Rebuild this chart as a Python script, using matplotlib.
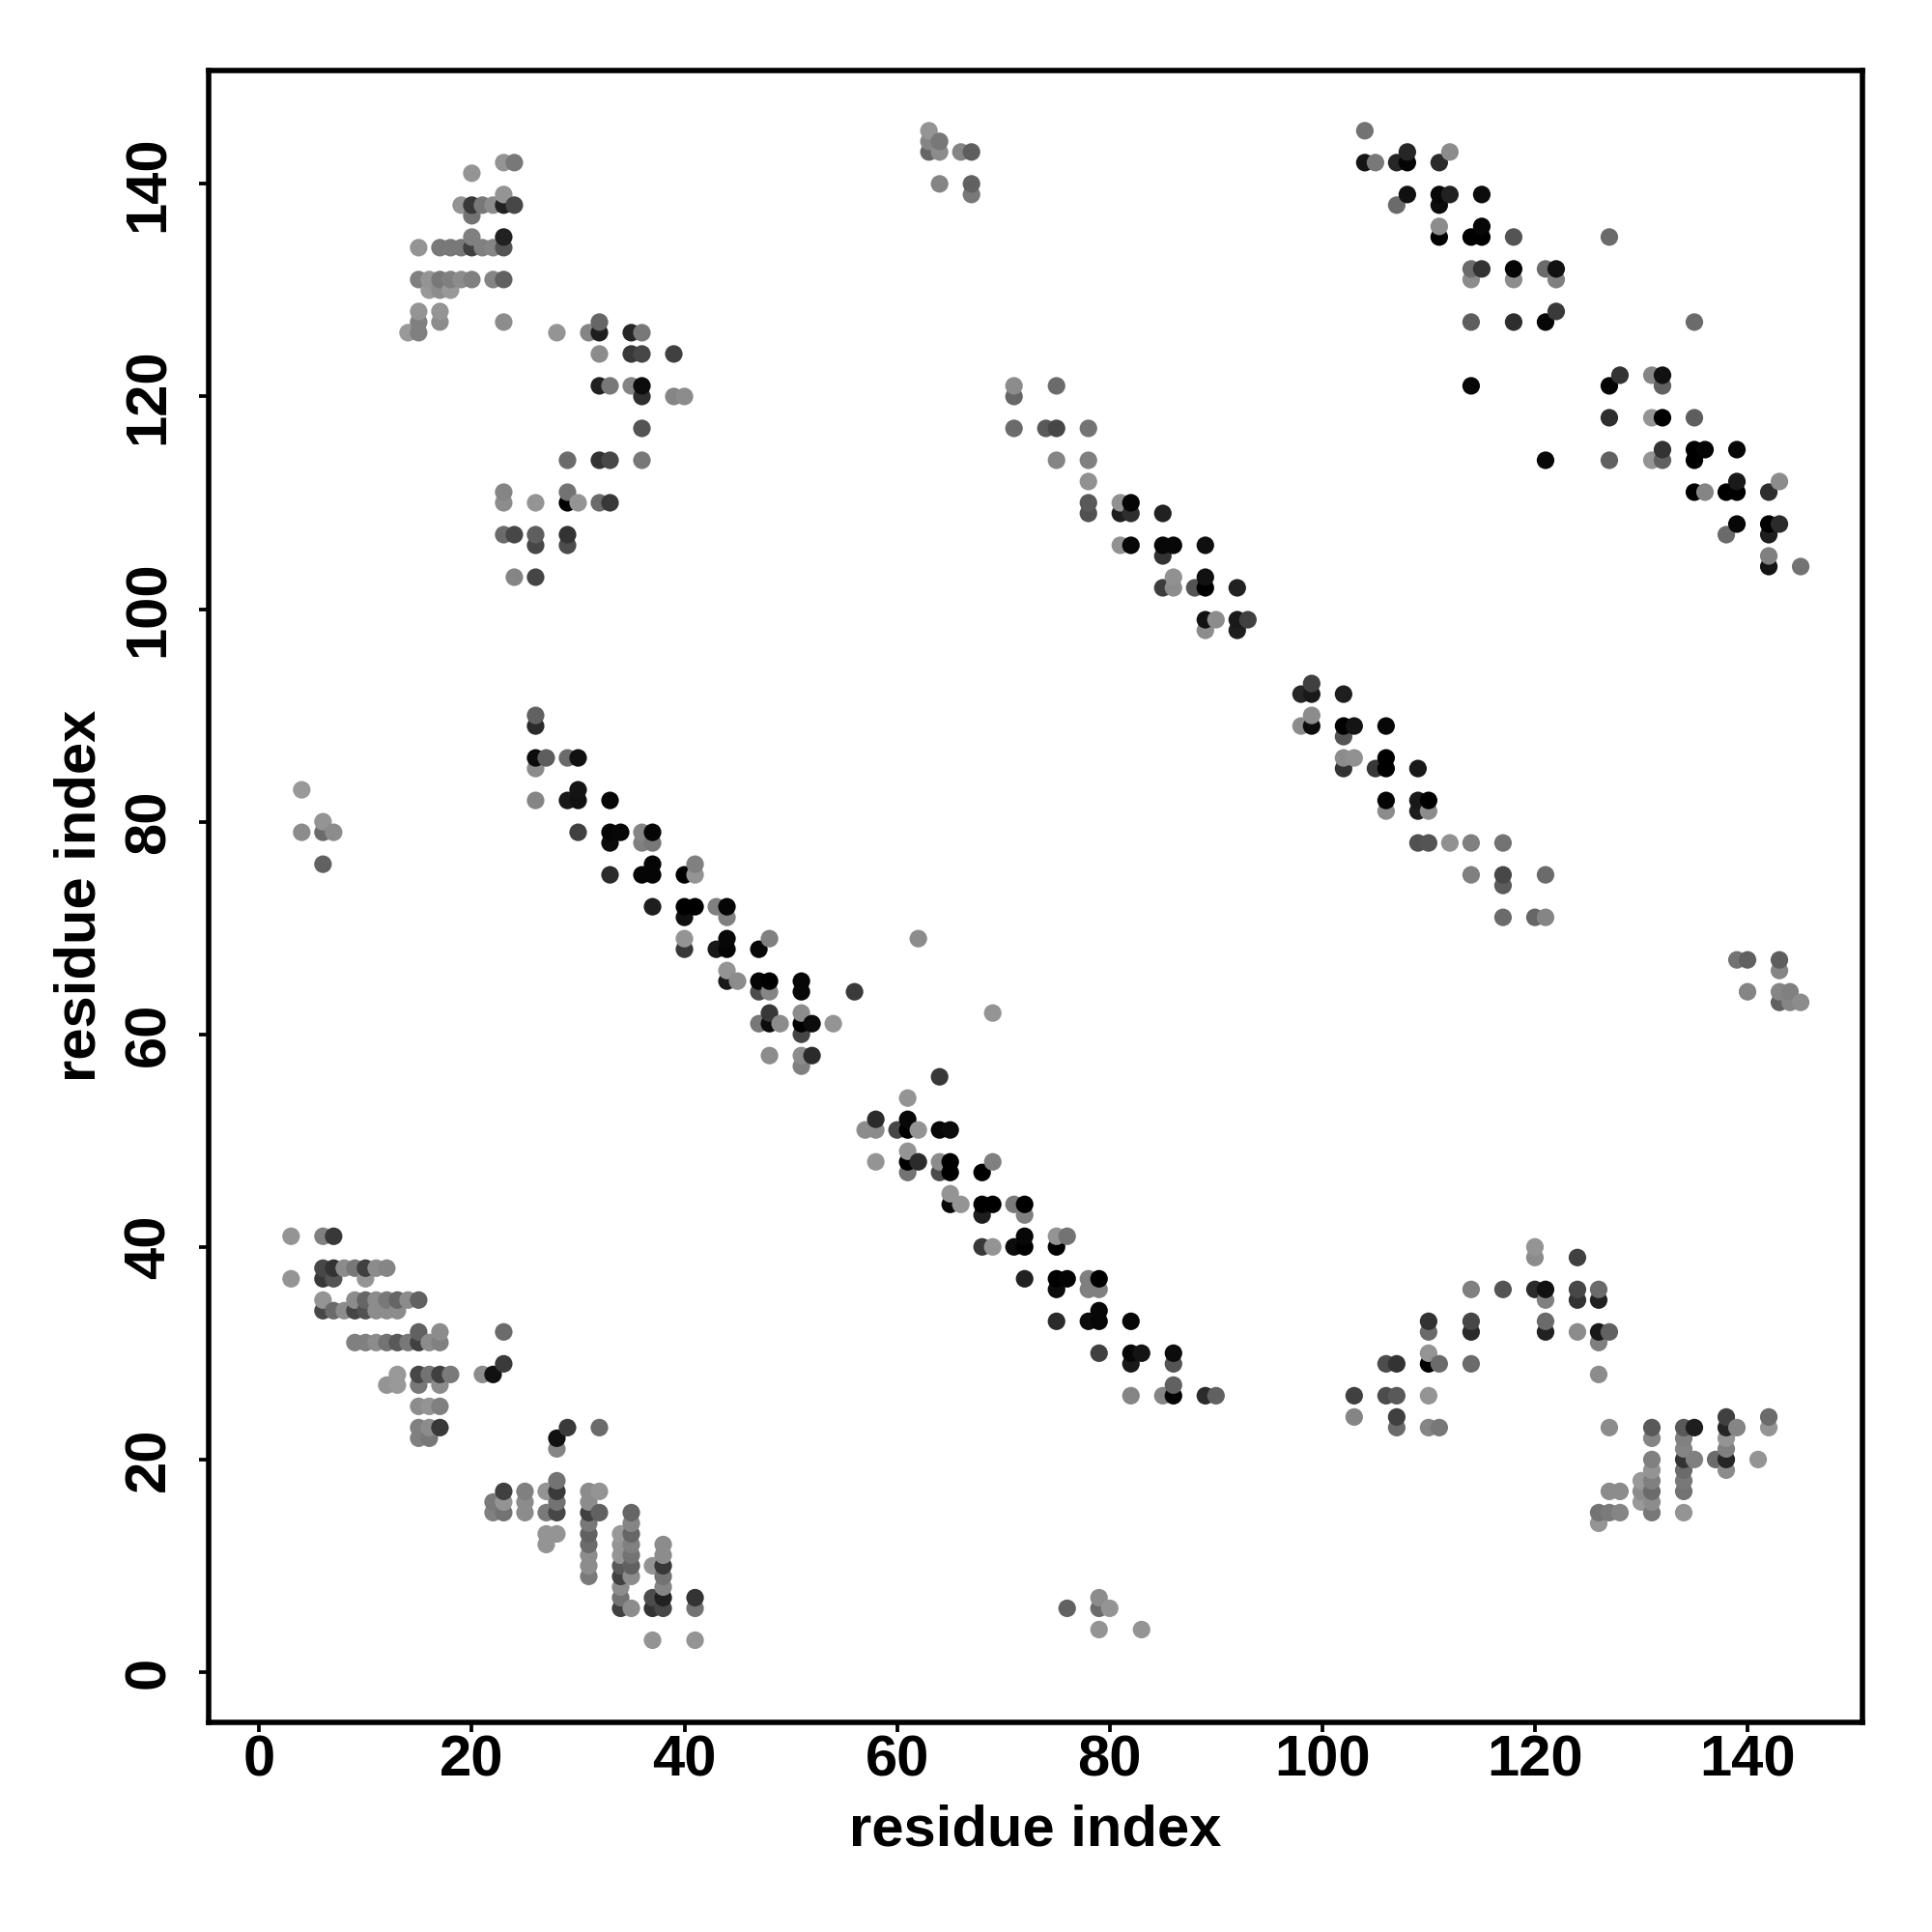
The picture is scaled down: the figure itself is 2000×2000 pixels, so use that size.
#
# Mapa de contactos por residuo
#
import numpy as np
import matplotlib
matplotlib.use("Agg")
import matplotlib.pyplot as plt

plt.rcParams["font.family"] = ["Liberation Sans", "DejaVu Sans"]
plt.rcParams["font.weight"] = "bold"

tick_values = [0, 20, 40, 60, 80, 100, 120, 140]

#
# Puntos por filas: residuo en y, residuos en x y nivel de gris
#
y_a = [3, 4, 6, 7, 8, 9, 10, 11, 12, 13, 14, 15, 16, 17, 18, 19, 20, 21, 22, 23, 24]
x_a = [[37, 41], [79, 83], [34, 35, 37, 38, 41, 76, 79, 80], [34, 37, 38, 41, 79], [34, 38],
       [31, 34, 35, 38], [31, 34, 35, 37, 38], [31, 34, 35, 38], [27, 31, 34, 35, 38],
       [27, 28, 31, 34, 35], [31, 35, 126],
       [22, 23, 25, 27, 28, 31, 32, 35, 126, 127, 128, 131, 134],
       [22, 23, 25, 28, 31, 130, 131],
       [23, 25, 27, 28, 31, 32, 127, 128, 130, 131, 134],
       [28, 130, 131, 134], [131, 134, 138], [131, 134, 135, 137, 138, 141], [28, 134, 138],
       [15, 16, 28, 131, 134, 138],
       [15, 16, 17, 29, 32, 107, 110, 111, 127, 131, 134, 135, 138, 139, 142],
       [103, 107, 138, 142]]
g_a = [[.58, .58], [.58, .58], [.25, .55, .2, .28, .45, .38, .42, .58], [.45, .3, .13, .2, .55], [.55, .52],
       [.48, .25, .55, .45], [.55, .35, .38, .58, .22], [.55, .58, .45, .55], [.58, .42, .58, .5, .55],
       [.58, .58, .38, .6, .4], [.47, .52, .58],
       [.5, .45, .55, .48, .28, .25, .38, .4, .45, .48, .52, .47, .58],
       [.48, .58, .55, .45, .55, .6, .55],
       [.25, .5, .58, .23, .55, .58, .55, .55, .55, .42, .45],
       [.45, .6, .5, .47], [.58, .42, .55], [.5, .2, .5, .42, .15, .58], [.52, .52, .5],
       [.5, .47, .07, .52, .5, .58],
       [.5, .55, .22, .23, .42, .42, .52, .47, .55, .35, .35, .12, .15, .52, .58],
       [.52, .25, .25, .42]]

y_b = [25, 26, 27, 28, 29, 30, 31, 32, 33, 34, 35, 36, 37, 38, 39, 40, 41, 43, 44, 45, 47, 48, 49]
x_b = [[15, 16, 17], [82, 85, 86, 89, 90, 103, 106, 107, 110], [12, 13, 15, 17, 86],
       [13, 15, 16, 17, 18, 21, 22, 126], [23, 82, 86, 106, 107, 110, 111, 114],
       [79, 82, 83, 86, 110], [9, 10, 11, 12, 13, 14, 15, 16, 17, 126],
       [15, 17, 23, 110, 114, 121, 124, 126, 127], [75, 78, 79, 82, 110, 114, 121],
       [6, 7, 8, 9, 10, 11, 12, 13, 79], [6, 9, 10, 11, 12, 13, 14, 15, 121, 124, 126],
       [75, 78, 79, 114, 117, 120, 121, 124, 126], [3, 6, 7, 10, 72, 75, 76, 78, 79],
       [6, 7, 8, 9, 10, 11, 12], [120, 124], [68, 69, 71, 72, 75, 120], [3, 6, 7, 72, 75, 76],
       [68, 72], [65, 66, 68, 69, 71, 72], [65], [61, 64, 65, 68], [58, 61, 62, 64, 65, 69], [61]]
g_b = [[.55, .58, .5], [.52, .52, .02, .17, .38, .25, .3, .35, .58], [.58, .6, .47, .55, .38],
       [.6, .28, .45, .25, .48, .55, .07, .55], [.23, .1, .33, .3, .2, .0, .42, .42],
       [.25, .03, .08, .05, .58], [.5, .5, .55, .45, .35, .47, .25, .55, .5, .5],
       [.38, .55, .42, .42, .17, .13, .55, .1, .38], [.17, .05, .03, .03, .2, .28, .42],
       [.28, .42, .55, .27, .32, .55, .55, .55, .03], [.58, .55, .4, .55, .47, .4, .55, .38, .5, .2, .13],
       [.05, .5, .5, .5, .33, .17, .07, .28, .42], [.58, .22, .33, .58, .13, .0, .02, .5, .0],
       [.28, .2, .55, .47, .25, .55, .52], [.55, .25], [.22, .58, .05, .0, .0, .58], [.58, .5, .22, .03, .58, .45],
       [.12, .5], [.03, .58, .0, .0, .48, .0], [.58], [.45, .3, .0, .0], [.58, .0, .17, .55, .0, .5], [.58]]

y_c = [51, 52, 54, 56, 57, 58, 60, 61, 62, 63, 64, 65, 66, 67, 68, 69, 71, 72, 74]
x_c = [[57, 58, 60, 61, 62, 64, 65], [58, 61], [61], [64], [51], [48, 51, 52], [51],
       [47, 48, 49, 51, 52, 54], [48, 51, 69], [143, 144, 145], [47, 48, 51, 56, 140, 143, 144],
       [44, 45, 47, 48, 51], [44, 143], [139, 140, 143], [40, 43, 44, 47], [40, 44, 48, 62],
       [40, 44, 117, 120, 121], [37, 40, 41, 43, 44], [117]]
g_c = [[.55, .55, .28, .0, .58, .03, .05], [.17, .03], [.58], [.22], [.5], [.55, .55, .17], [.27],
       [.47, .05, .55, .0, .05, .58], [.22, .55, .58], [.38, .52, .55], [.3, .52, .03, .23, .52, .52, .5],
       [.1, .55, .02, .0, .03], [.58, .52], [.45, .38, .37], [.22, .1, .02, .03], [.58, .03, .5, .55],
       [.07, .5, .42, .4, .52], [.12, .0, .0, .5, .02], [.36]]

y_d = [75, 76, 78, 79, 80, 81, 82, 83, 85, 86, 88, 89, 90, 92, 93, 98, 99]
x_d = [[33, 36, 37, 40, 41, 114, 117, 121], [6, 37, 41], [33, 36, 37, 109, 110, 112, 114, 117],
       [4, 6, 7, 30, 33, 34, 36, 37], [6], [106, 109, 110], [26, 29, 30, 33, 106, 109, 110], [4, 30],
       [26, 102, 105, 106, 109], [26, 27, 29, 30, 102, 103, 106], [102], [26, 98, 99, 102, 103, 106],
       [26, 99], [98, 99, 102], [99], [89, 92], [89, 90, 92, 93]]
g_d = [[.17, .02, .02, .0, .58, .5, .28, .42], [.38, .02, .5], [.05, .5, .47, .32, .33, .57, .5, .45],
       [.55, .42, .55, .25, .02, .03, .52, .02], [.58], [.55, .12, .55], [.52, .1, .07, .03, .02, .1, .0], [.6, .08],
       [.55, .2, .22, .0, .1], [.05, .37, .42, .07, .55, .57, .0], [.33], [.17, .55, .05, .0, .08, .03],
       [.38, .55], [.15, .1, .12], [.25], [.55, .12], [.07, .55, .1, .25]]

y_e = [102, 103, 104, 105, 106, 107, 108, 109, 110, 111, 112, 114, 115, 117, 118, 120, 121, 122, 124]
x_e = [[85, 86, 88, 89, 92], [24, 26, 86, 89], [142, 145], [85, 142], [26, 29, 81, 82, 85, 86, 89],
       [23, 24, 26, 29, 138, 142], [139, 142, 143], [78, 81, 82, 85],
       [23, 26, 29, 30, 32, 33, 78, 81, 82], [23, 29, 135, 136, 138, 139, 142], [78, 139, 143],
       [29, 32, 33, 36, 75, 78, 121, 127, 131, 132, 135], [132, 135, 136, 139], [36, 71, 74, 75, 78],
       [127, 131, 132, 135], [36, 39, 40, 71], [32, 33, 35, 36, 71, 75, 114, 127, 132],
       [128, 131, 132], [32, 35, 36, 39]]
g_e = [[.24, .55, .33, .0, .13], [.52, .27, .57, .07], [.08, .45], [.2, .5], [.28, .3, .57, .03, .03, .03, .06],
       [.42, .28, .37, .2, .42, .12], [.03, .0, .17], [.32, .12, .18, .13],
       [.55, .58, .0, .58, .42, .22, .35, .57, .02], [.52, .45, .0, .52, .0, .0, .18], [.57, .1, .55],
       [.42, .2, .28, .47, .52, .5, .03, .38, .58, .38, .0], [.2, .0, .02, .03], [.33, .42, .35, .28, .45],
       [.18, .58, .0, .37], [.18, .52, .55, .4], [.13, .47, .52, .05, .55, .42, .03, .02, .38],
       [.2, .52, .07], [.55, .22, .28, .25]]

y_f = [126, 127, 128, 130, 131, 132, 134, 135, 136, 137, 138, 139, 140, 141, 142, 143, 144, 145]
x_f = [[14, 15, 28, 31, 32, 35, 36], [15, 17, 23, 32, 114, 118, 121, 135], [15, 17, 122], [16, 17, 18],
       [15, 16, 17, 18, 19, 20, 22, 23, 114, 118, 122], [114, 115, 118, 121, 122],
       [15, 17, 18, 19, 20, 21, 22, 23], [20, 23, 111, 114, 115, 118, 127], [111, 115], [20],
       [19, 20, 21, 22, 23, 24, 107, 111], [23, 67, 108, 111, 112, 115], [64, 67], [20],
       [23, 24, 104, 105, 107, 108, 111], [63, 64, 66, 67, 108, 112], [63, 64], [63, 104]]
g_f = [[.6, .5, .58, .52, .12, .15, .47], [.5, .55, .55, .4, .37, .18, .03, .42], [.58, .58, .23], [.6, .55, .6],
       [.5, .58, .47, .5, .55, .5, .52, .38, .55, .55, .5], [.42, .2, .02, .42, .07],
       [.58, .47, .47, .47, .25, .5, .52, .33], [.5, .13, .0, .0, .0, .33, .42], [.55, .03], [.45],
       [.58, .22, .47, .55, .13, .28, .42, .05], [.58, .47, .07, .03, .13, .05], [.52, .38], [.58],
       [.58, .47, .08, .47, .15, .02, .17], [.4, .55, .52, .37, .15, .55], [.52, .47], [.58, .45]]

#
# Se organizan los datos para graficarlos.
#
xs, ys, gs = [], [], []
for rows, cols, shades in [(y_a, x_a, g_a), (y_b, x_b, g_b), (y_c, x_c, g_c),
                           (y_d, x_d, g_d), (y_e, x_e, g_e), (y_f, x_f, g_f)]:
    for row, col, shade in zip(rows, cols, shades):
        xs.extend(col)
        ys.extend([row] * len(col))
        gs.extend(shade)
xs, ys, gs = np.array(xs), np.array(ys), np.array(gs)
order = np.lexsort((ys, xs))

fig = plt.figure(figsize=(20, 20), dpi=100)
ax = fig.add_axes([215.5 / 2000, 217 / 2000, 1712.5 / 2000, 1710.4 / 2000])
ax.scatter(xs[order], ys[order], c=gs[order], cmap="gray", vmin=0, vmax=1, s=172, linewidths=0)

ax.set_xlim(-4.80, 150.81)
ax.set_ylim(-4.73, 150.70)
ax.set_xticks(tick_values)
ax.set_yticks(tick_values)
ax.tick_params(axis="x", length=7, width=2.7, labelsize=43, pad=2)
ax.tick_params(axis="y", length=7, width=2.7, labelsize=43, pad=17)
for label in ax.get_yticklabels():
    label.set_rotation(90)
    label.set_va("center")
for spine in ax.spines.values():
    spine.set_linewidth(4)
ax.set_xlabel("residue index", fontsize=43, fontweight="bold", labelpad=12)
ax.set_ylabel("residue index", fontsize=43, fontweight="bold", labelpad=12)

fig.savefig("out.png", dpi=100)
